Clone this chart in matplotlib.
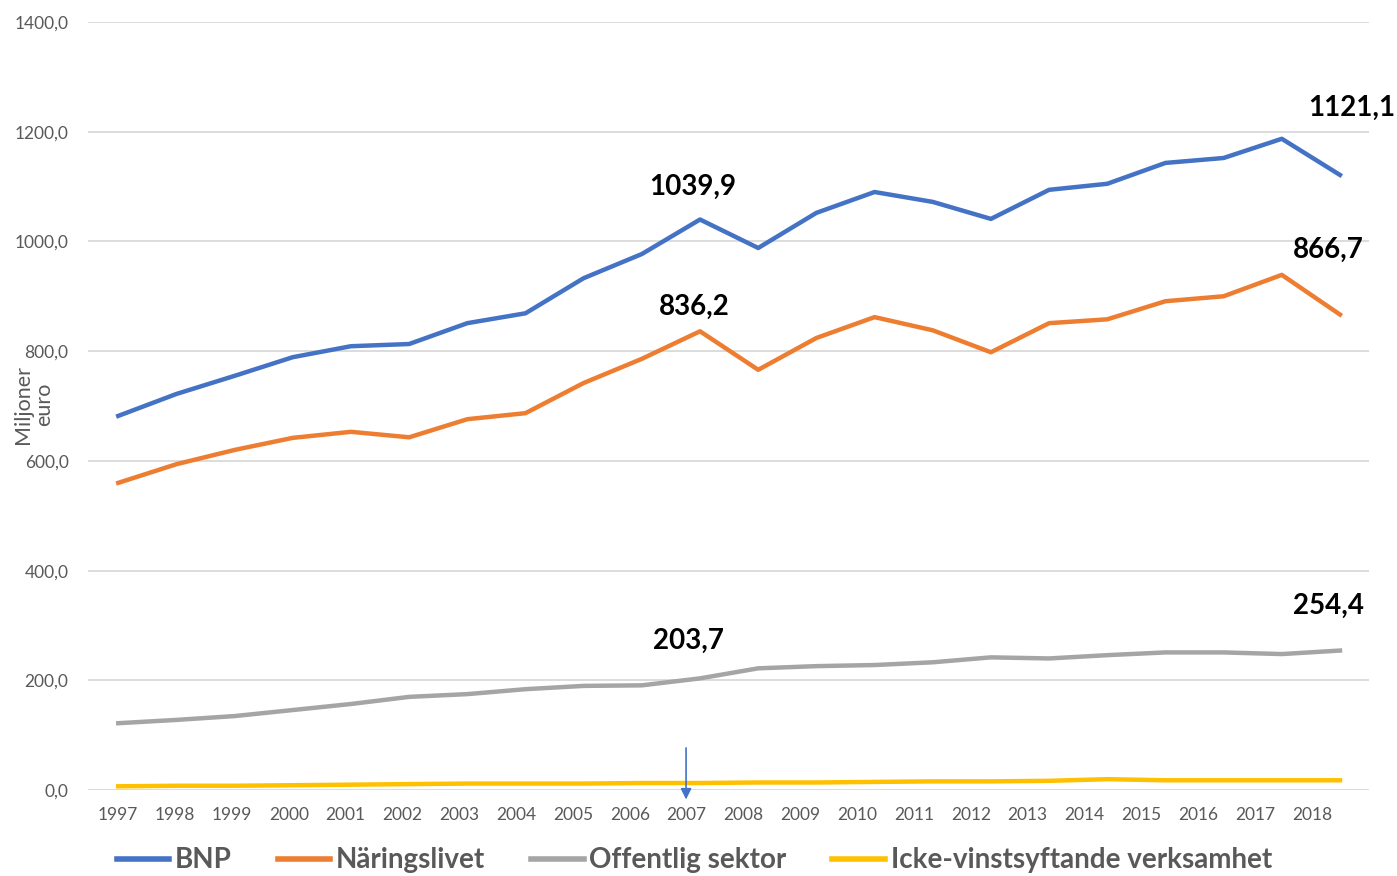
import numpy as np
import matplotlib.pyplot as plt

plt.rcParams['font.family'] = ['Lato', 'DejaVu Sans']

# data (miljoner euro)
years = [str(y) for y in range(1997, 2019)]
bnp = [682, 722, 755, 789, 809, 813, 851, 869, 933, 977, 1039.9,
       988, 1052, 1090, 1072, 1041, 1094, 1105, 1143, 1152, 1187, 1121.1]
naring = [560, 594, 620, 642, 653, 643, 676, 687, 742, 786, 836.2,
          766, 824, 862, 838, 798, 851, 858, 891, 900, 939, 866.7]
offentlig = [122, 128, 135, 146, 157, 170, 175, 184, 190, 191, 203.7,
             222, 226, 228, 233, 242, 240, 246, 251, 251, 248, 254.4]
icke = [7, 8, 8, 9, 10, 11, 12, 12, 12, 13, 13,
        14, 14, 15, 16, 16, 17, 20, 18, 18, 18, 18]

series = [("BNP", bnp, "#4472C4"),
          ("Näringslivet", naring, "#ED7D31"),
          ("Offentlig sektor", offentlig, "#A5A5A5"),
          ("Icke-vinstsyftande verksamhet", icke, "#FFC000")]

fig = plt.figure(figsize=(13.97, 8.76), dpi=100)
ax = fig.add_axes([0.063, 0.098, 0.917, 0.877])

x = np.arange(len(years))
for name, vals, col in series:
    ax.plot(x, vals, color=col, lw=3.2, label=name, solid_joinstyle='round')

ax.set_ylim(0, 1400)
ax.set_xlim(-0.52, 21.5)
ax.set_yticks(np.arange(0, 1401, 200))
ax.set_yticklabels([f"{v:.1f}".replace('.', ',') for v in np.arange(0, 1401, 200)])
# year labels sit slightly left of the data points in the original
ax.set_xticks(x * 0.977)
ax.set_xticklabels(years)
ax.tick_params(length=0, labelsize=12.5, colors='#595959')
ax.tick_params(axis='x', pad=12)
ax.tick_params(axis='y', pad=14)
ax.grid(axis='y', color='#D9D9D9', lw=1.3)
ax.set_axisbelow(True)
for s in ax.spines.values():
    s.set_visible(False)

fig.text(0.024, 0.538, "Miljoner\neuro", rotation=90, ha='center', va='center',
         fontsize=15.5, color='#595959', linespacing=1.05)

# value labels
kw = dict(fontsize=20, fontweight='bold', color='black', ha='center', va='bottom')
ax.text(10 - 0.13, bnp[10] + 35, "1039,9", **kw)
ax.text(10 - 0.1, naring[10] + 20, "836,2", **kw)
ax.text(10 - 0.2, offentlig[10] + 45, "203,7", **kw)
ax.text(21.2, bnp[21] + 98, "1121,1", **kw)
ax.text(20.8, naring[21] + 95, "866,7", **kw)
ax.text(20.8, offentlig[21] + 57, "254,4", **kw)

# arrow pointing at 2007
ax.annotate("", xy=(9.76, -22), xytext=(9.76, 82),
            arrowprops=dict(arrowstyle='-|>', color='#4472C4', lw=1.2,
                            mutation_scale=16), annotation_clip=False)

leg = fig.legend(loc='center', bbox_to_anchor=(0.497, 0.018), ncol=4, frameon=False,
                 prop={'size': 20, 'weight': 'bold'}, handlelength=1.9,
                 handletextpad=0.2, columnspacing=1.65)
for t in leg.get_texts():
    t.set_color('#595959')
for h in leg.get_lines():
    h.set_linewidth(4)

fig.savefig('out.png', dpi=100)
